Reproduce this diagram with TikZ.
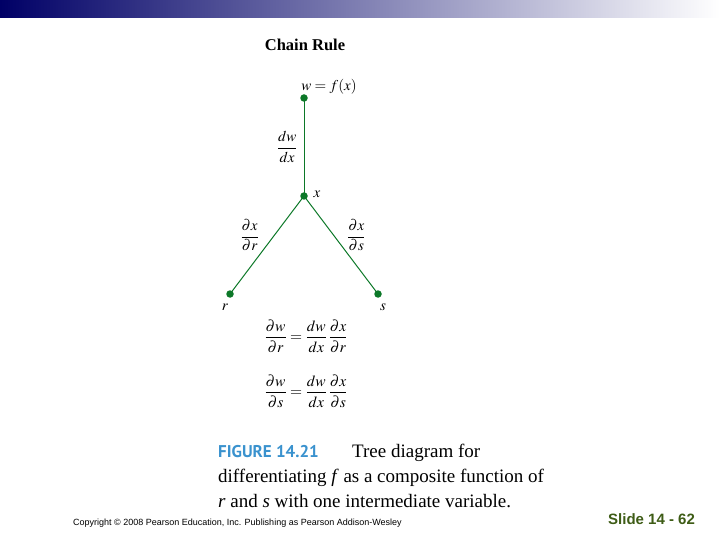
\documentclass[tikz,border=0pt]{standalone}
\usepackage{amsmath}
\usepackage{mathptmx}
\usepackage{fontspec}
\setmainfont{Liberation Serif}
\setsansfont{Liberation Sans}
\newfontfamily\figfont{PT Sans}
\usepackage{tikz}
\usetikzlibrary{positioning}
\pgfdeclarelayer{edgelayer}
\pgfdeclarelayer{nodelayer}
\pgfsetlayers{edgelayer,nodelayer,main}
\definecolor{treegreen}{RGB}{12,120,40}
\definecolor{barnavy}{RGB}{0,0,102}
\definecolor{barmid}{RGB}{150,150,172}
\definecolor{figblue}{RGB}{58,146,206}
\definecolor{slidegreen}{RGB}{62,92,22}
\tikzset{
    dot/.style = {circle, fill=treegreen, inner sep=0pt, minimum size=7.5pt},
    lab/.style = {inner sep=0pt, text=black, font=\fontsize{15}{17}\selectfont},
    eqn/.style = {inner sep=0pt, text=black, font=\fontsize{15.5}{17}\selectfont},
    branch/.style = {draw=treegreen, line width=1pt},
    txt/.style = {inner sep=0pt, anchor=base west, font=\fontsize{19}{25}\selectfont}
}

\begin{document}
\begin{tikzpicture}[x=1pt, y=-1pt]
  \useasboundingbox (0, 0) rectangle (720, 540);
  \shade [left color=barnavy, middle color=barmid, right color=white] (0, 0) rectangle (720, 18);
  \node [inner sep=0pt, anchor=base, font=\fontsize{16.5}{18}\selectfont\bfseries] (title) at (305, 51) {Chain Rule};
  \begin{pgfonlayer}{nodelayer}
    \node [dot] (0) at (304, 98) {};
    \node [dot] (1) at (304, 196) {};
    \node [dot] (2) at (230, 294) {};
    \node [dot] (3) at (378, 294) {};
  \end{pgfonlayer}
  \begin{pgfonlayer}{edgelayer}
    \draw [branch] (0.center) to node [lab, left=6pt] (dwdx) {$\dfrac{dw}{dx}$} (1.center);
    \draw [branch] (1.center) to node [lab, pos=0.4, left=15pt] (dxdr) {$\dfrac{\partial x}{\partial r}$} (2.center);
    \draw [branch] (1.center) to node [lab, pos=0.4, right=13pt] (dxds) {$\dfrac{\partial x}{\partial s}$} (3.center);
  \end{pgfonlayer}
  \node [lab] (wlab) at (329, 87) {$w = f(x)$};
  \node [lab] (xlab) at (317, 194) {$x$};
  \node [lab] (rlab) at (225, 307) {$r$};
  \node [lab] (slab) at (383, 307) {$s$};
  % the two chain rule formulas
  \node [eqn] (eqr) at (306, 336) {$\dfrac{\partial w}{\partial r} = \dfrac{dw}{dx}\,\dfrac{\partial x}{\partial r}$};
  \node [eqn] (eqs) at (306, 391) {$\dfrac{\partial w}{\partial s} = \dfrac{dw}{dx}\,\dfrac{\partial x}{\partial s}$};
  % caption
  \node [txt, font=\fontsize{17}{20}\selectfont\figfont\bfseries, text=figblue] (fig) at (218, 457) {FIGURE 14.21};
  \node [txt] (cap1) at (352, 457) {Tree diagram for};
  \node [txt] (cap2) at (218, 482) {differentiating \textit{f} as a composite function of};
  \node [txt] (cap3) at (218, 507) {\textit{r} and \textit{s} with one intermediate variable.};
  \node [inner sep=0pt, anchor=base west, font=\fontsize{9}{10}\selectfont\sffamily] (copy) at (73, 525) {Copyright © 2008 Pearson Education, Inc. Publishing as Pearson Addison-Wesley};
  \node [inner sep=0pt, anchor=base west, font=\fontsize{15}{17}\selectfont\sffamily\bfseries, text=slidegreen] (slide) at (608, 524) {Slide 14 - 62};
\end{tikzpicture}
\end{document}
